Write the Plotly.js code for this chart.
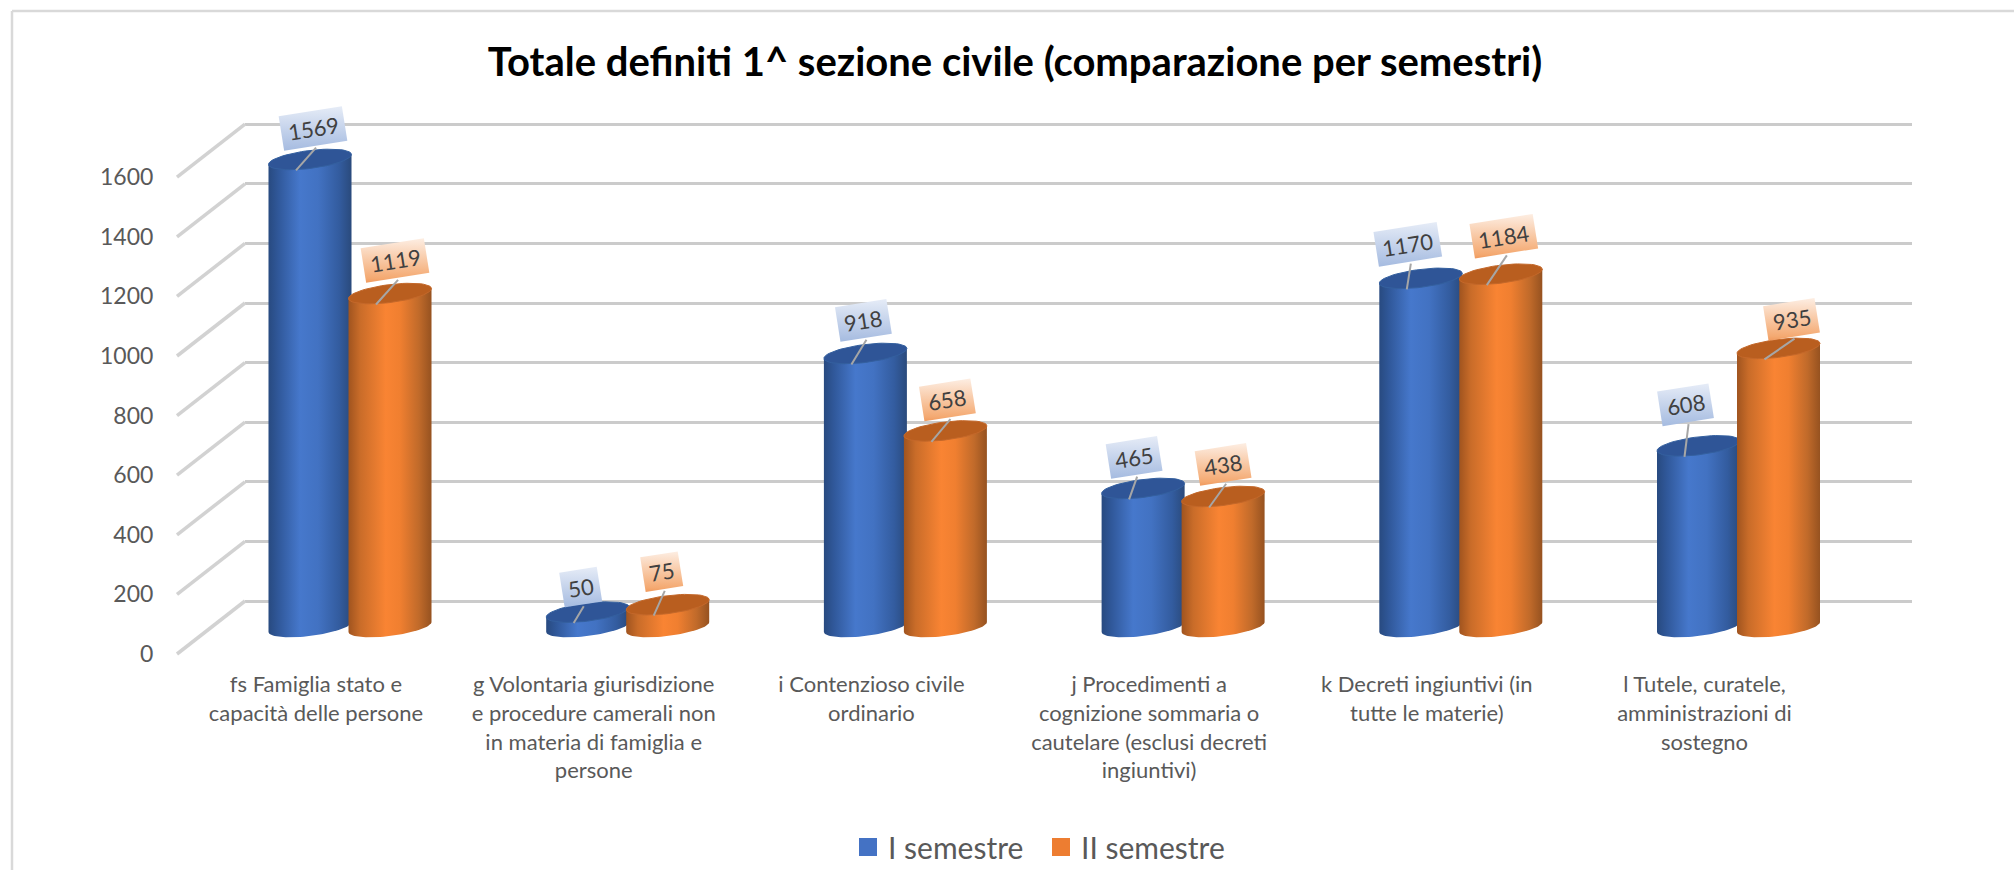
<!DOCTYPE html>
<html><head><meta charset="utf-8">
<script src="https://cdn.plot.ly/plotly-3.0.1.min.js"></script>
<style>html,body{margin:0;padding:0;background:#fff}#c{width:2014px;height:870px}</style>
</head><body><div id="c"></div>
<script>
const categories = [
  "fs Famiglia stato e<br>capacità delle persone",
  "g Volontaria giurisdizione<br>e procedure camerali non<br>in materia di famiglia e<br>persone",
  "i Contenzioso civile<br>ordinario",
  "j Procedimenti a<br>cognizione sommaria o<br>cautelare (esclusi decreti<br>ingiuntivi)",
  "k Decreti ingiuntivi (in<br>tutte le materie)",
  "l Tutele, curatele,<br>amministrazioni di<br>sostegno"
];
const semesterI = [1569, 50, 918, 465, 1170, 608];
const semesterII = [1119, 75, 658, 438, 1184, 935];
const seriesNames = ["I semestre", "II semestre"];
const yTicks = [0, 200, 400, 600, 800, 1000, 1200, 1400, 1600];

// label-box offsets from the cylinder top, in screen pixels
const labelOffsetI = [[3,-31],[-7,-25],[-2,-33],[-9,-31],[-13,-34],[-13,-41]];
const labelOffsetII = [[5,-33],[-6,-33],[2,-31],[0,-32],[3,-38],[13,-29]];

// frame geometry in screen pixels
const L = 173, R = 1912, T = 100, B = 660, BACK_L = 245;
const PX_X = 277.7, PX_Y = 0.298;       // pixels per x unit / per value unit
const LABEL0 = 316, GROUP_SHIFT = 34, HALF = 41.5;
const BAR0 = 627, FRONT0 = 654, BACK0 = 601;
const dx = p => p / PX_X, dy = p => p / PX_Y;

const xr = [(L - LABEL0) / PX_X, (R - LABEL0) / PX_X];
const yrange = zero => [(zero - B) / PX_Y, (zero - T) / PX_Y];
const W = 2014, H = 870;

const blueBody = [[0,'#284a80'],[0.12,'#30589a'],[0.38,'#4678cc'],[0.6,'#4272c2'],[0.85,'#335c9f'],[1,'#2a4a7c']];
const orangeBody = [[0,'#a0541f'],[0.14,'#c96c29'],[0.45,'#f98433'],[0.62,'#f07f30'],[0.85,'#c06a2a'],[1,'#965220']];
const blueBox = [[0,'#a5bbe0'],[1,'#e6ecf7']];
const orangeBox = [[0,'#f09a5e'],[0.1,'#f4a971'],[1,'#fdeee3']];

const traces = [];
traces.push({x:[null],y:[null],xaxis:'x',yaxis:'y',mode:'lines',showlegend:false,hoverinfo:'skip'});

const diagX = [], diagY = [];
yTicks.forEach(v => {
  diagX.push(dx(177 - LABEL0), dx(BACK_L - LABEL0), null);
  diagY.push(v, v + dy(FRONT0 - BACK0), null);
});
traces.push({x:diagX,y:diagY,xaxis:'x2',yaxis:'y3',mode:'lines',
  line:{color:'#d2d2d2',width:3.5},showlegend:false,hoverinfo:'skip'});

const SHEAR = 0.12, B_ELL = 9;
const arcPoint = (cx, v, t) => {
  const a = dx(HALF) * Math.cos(t);
  const py = B_ELL * Math.sin(t) - SHEAR * HALF * Math.cos(t);
  return [cx + a, v - dy(py)];
};

function cylinder(cx, v, body, top) {
  const xs = [], ys = [];
  for (let i = 0; i <= 40; i++) {
    const t = Math.PI - i / 40 * Math.PI;
    const p = arcPoint(cx, 0, t);
    xs.push(p[0]); ys.push(p[1]);
  }
  const r = arcPoint(cx, v, 0), l = arcPoint(cx, v, Math.PI);
  xs.push(r[0], l[0]); ys.push(r[1], l[1]);
  traces.push({x:xs,y:ys,xaxis:'x2',yaxis:'y2',mode:'lines',fill:'toself',
    line:{width:0,color:'rgba(0,0,0,0)'},fillgradient:{type:'horizontal',colorscale:body},
    showlegend:false,hoverinfo:'skip'});
  const ex = [], ey = [];
  for (let i = 0; i <= 60; i++) {
    const p = arcPoint(cx, v, i / 60 * 2 * Math.PI);
    ex.push(p[0]); ey.push(p[1]);
  }
  traces.push({x:ex,y:ey,xaxis:'x2',yaxis:'y2',mode:'lines',fill:'toself',
    line:{width:1,color:top[1]},fillcolor:top[0],showlegend:false,hoverinfo:'skip'});
}

const annotations = [];
const leadX = [], leadY = [];
const ANG = 9 * Math.PI / 180;

function label(cx, v, off, colors) {
  const txt = String(v);
  const w = txt.length >= 4 ? 64 : txt.length === 3 ? 52 : 38, h = 35;
  const cosA = Math.cos(ANG), sinA = Math.sin(ANG);
  const corners = [[-w/2,-h/2],[w/2,-h/2],[w/2,h/2],[-w/2,h/2],[-w/2,-h/2]];
  const bx = cx + dx(off[0]), by = v - dy(off[1]);
  const xs = [], ys = [];
  corners.forEach(c => {
    const sx = c[0] * cosA + c[1] * sinA;
    const sy = -c[0] * sinA + c[1] * cosA;
    xs.push(bx + dx(sx)); ys.push(by - dy(sy));
  });
  traces.push({x:xs,y:ys,xaxis:'x2',yaxis:'y2',mode:'lines',fill:'toself',
    line:{width:0,color:'rgba(0,0,0,0)'},
    fillgradient:{type:'vertical',colorscale:colors},showlegend:false,hoverinfo:'skip'});
  leadX.push(bx + dx((h/2+2) * sinA), cx + dx(-14), null);
  leadY.push(by - dy((h/2+2) * cosA), v - dy(11), null);
  annotations.push({x:bx,y:by,xref:'x2',yref:'y2',text:txt,showarrow:false,
    textangle:-9,font:{family:'Lato, sans-serif',size:22,color:'#404040'},
    xanchor:'center',yanchor:'middle'});
}

const center = i => i + dx(GROUP_SHIFT);
categories.forEach((c, i) => {
  cylinder(center(i) - dx(HALF - 1.5), semesterI[i], blueBody, ['#2f5597','#34609f']);
  cylinder(center(i) + dx(HALF - 1.5), semesterII[i], orangeBody, ['#b95e1f','#c4682a']);
});
categories.forEach((c, i) => {
  label(center(i) - dx(HALF - 1.5), semesterI[i], labelOffsetI[i], blueBox);
  label(center(i) + dx(HALF - 1.5), semesterII[i], labelOffsetII[i], orangeBox);
});
traces.push({x:leadX,y:leadY,xaxis:'x2',yaxis:'y2',mode:'lines',
  line:{color:'#a6a6a6',width:2},showlegend:false,hoverinfo:'skip'});

[['#4472c4',seriesNames[0]],['#ed7d31',seriesNames[1]]].forEach(s => {
  traces.push({x:[null],y:[null],xaxis:'x2',yaxis:'y3',mode:'markers',name:s[1],
    marker:{symbol:'square',size:16,color:s[0],line:{color:s[0],width:2}},hoverinfo:'skip'});
});

const font = {family:'Lato, sans-serif',color:'#595959',size:22};
const layout = {
  width:W,height:H,paper_bgcolor:'#fff',plot_bgcolor:'rgba(0,0,0,0)',
  margin:{l:L,r:W-R,t:T,b:H-B,pad:0,autoexpand:false},font:font,
  title:{text:'Totale definiti 1^ sezione civile (comparazione per semestri)',
    x:1015/W,xanchor:'center',xref:'container',y:1-62/H,yanchor:'middle',yref:'container',
    font:{family:'Lato, sans-serif',size:40,weight:700,color:'#000'}},
  xaxis:{domain:[(BACK_L-L)/(R-L),1],range:[0,1],visible:false,fixedrange:true,anchor:'y'},
  yaxis:{anchor:'x',range:yrange(BACK0),tickvals:yTicks,showgrid:true,gridcolor:'#cbcbcb',gridwidth:3,
    zeroline:false,showticklabels:false,ticks:'',showline:false,fixedrange:true},
  xaxis2:{domain:[0,1],range:xr,anchor:'y2',tickmode:'array',tickvals:categories.map((c,i)=>i),ticktext:categories,
    tickangle:0,showgrid:false,zeroline:false,showline:false,ticks:'outside',ticklen:5,tickcolor:'rgba(0,0,0,0)',
    tickfont:{family:'Lato, sans-serif',size:22,color:'#595959'},fixedrange:true},
  yaxis2:{anchor:'x2',range:yrange(BAR0),visible:false,fixedrange:true},
  yaxis3:{overlaying:'y2',anchor:'x2',side:'left',range:yrange(FRONT0),tickmode:'array',tickvals:yTicks,
    showgrid:false,zeroline:false,showline:false,ticks:'outside',ticklen:14,tickcolor:'rgba(0,0,0,0)',
    tickfont:{family:'Lato, sans-serif',size:23,color:'#595959'},fixedrange:true},
  legend:{orientation:'h',x:(1041-L)/(R-L),xanchor:'center',y:(B-847)/(B-T),yanchor:'middle',
    font:{family:'Lato, sans-serif',size:30,color:'#595959'},bgcolor:'rgba(0,0,0,0)',
    entrywidth:148,entrywidthmode:'pixels'},
  annotations:annotations,
  shapes:[
    {type:'line',xref:'paper',yref:'paper',x0:(12-L)/(R-L),x1:(2014-L)/(R-L),y0:(B-11)/(B-T),y1:(B-11)/(B-T),line:{color:'#d9d9d9',width:2.5}},
    {type:'line',xref:'paper',yref:'paper',x0:(12-L)/(R-L),x1:(12-L)/(R-L),y0:(B-11)/(B-T),y1:(B-870)/(B-T),line:{color:'#d9d9d9',width:2.5}}
  ],
  showlegend:true
};
Plotly.newPlot('c',traces,layout,{displayModeBar:false,staticPlot:true});
</script></body></html>
